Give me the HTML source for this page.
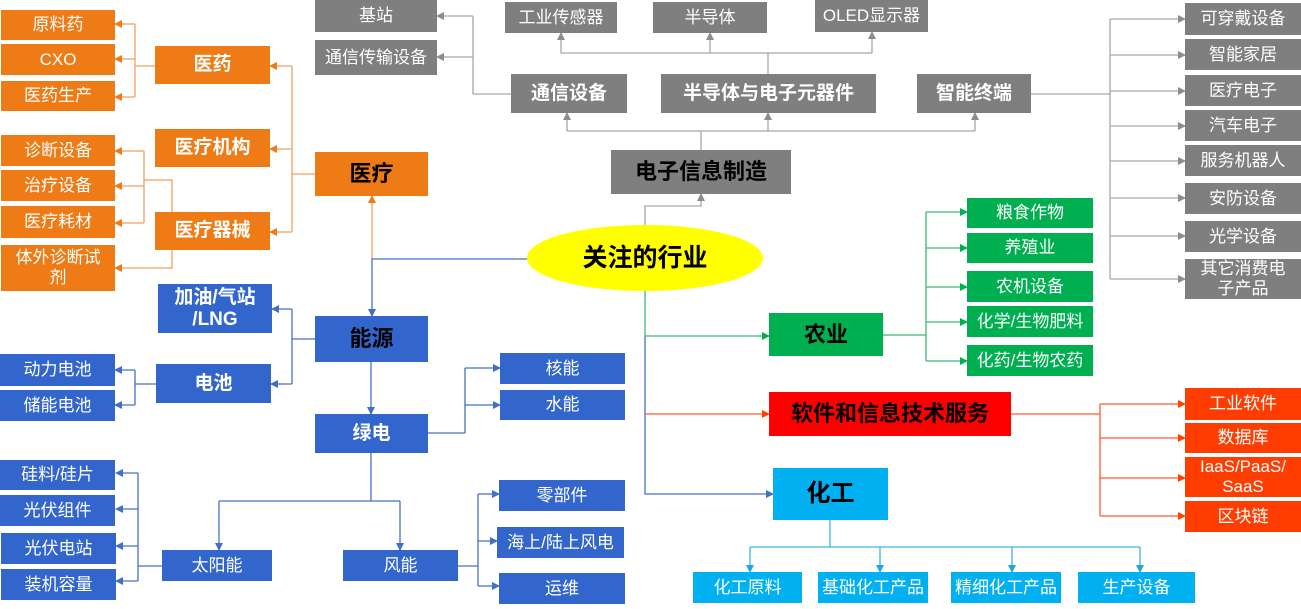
<!DOCTYPE html>
<html><head><meta charset="utf-8"><style>
body{margin:0;width:1301px;height:609px;background:#fff;position:relative;overflow:hidden;font-family:"Liberation Sans","Noto Sans CJK SC",sans-serif}
.b{position:absolute;display:flex;align-items:center;justify-content:center;text-align:center;color:#fff;font-size:17px;line-height:20px;box-sizing:border-box}
.o{background:#EE7B16}.g{background:#7F7F7F}.bl{background:#3366CC}.gr{background:#00B050}.r{background:#FF3D00}.c{background:#00B0F0}
.m{font-weight:bold;font-size:19px}
.t{font-weight:bold;font-size:22px;color:#000}
svg{position:absolute;left:0;top:0}
</style></head><body>
<svg width="1301" height="609" fill="none" stroke-width="1.3">
<defs>
<marker id="ao" markerWidth="8" markerHeight="8" refX="7" refY="4" orient="auto" markerUnits="userSpaceOnUse"><path d="M0,0L8,4L0,8z" fill="#EE7B16" stroke="none"/></marker>
<marker id="ag" markerWidth="8" markerHeight="8" refX="7" refY="4" orient="auto" markerUnits="userSpaceOnUse"><path d="M0,0L8,4L0,8z" fill="#8C8C8C" stroke="none"/></marker>
<marker id="ab" markerWidth="8" markerHeight="8" refX="7" refY="4" orient="auto" markerUnits="userSpaceOnUse"><path d="M0,0L8,4L0,8z" fill="#3F6FC8" stroke="none"/></marker>
<marker id="an" markerWidth="8" markerHeight="8" refX="7" refY="4" orient="auto" markerUnits="userSpaceOnUse"><path d="M0,0L8,4L0,8z" fill="#00B050" stroke="none"/></marker>
<marker id="ar" markerWidth="8" markerHeight="8" refX="7" refY="4" orient="auto" markerUnits="userSpaceOnUse"><path d="M0,0L8,4L0,8z" fill="#FF4000" stroke="none"/></marker>
<marker id="ac" markerWidth="8" markerHeight="8" refX="7" refY="4" orient="auto" markerUnits="userSpaceOnUse"><path d="M0,0L8,4L0,8z" fill="#1FA8E0" stroke="none"/></marker>
</defs>
<g stroke="#F0A060">
<path d="M315,174H292"/><path d="M292,66V232"/>
<path d="M292,66H270" marker-end="url(#ao)"/><path d="M292,149H270" marker-end="url(#ao)"/><path d="M292,232H270" marker-end="url(#ao)"/>
<path d="M155,66H135M135,24V97"/>
<path d="M135,24H115" marker-end="url(#ao)"/><path d="M135,59H115" marker-end="url(#ao)"/><path d="M135,97H115" marker-end="url(#ao)"/>
<path d="M172,212V180H144M144,151V223"/>
<path d="M144,151H115" marker-end="url(#ao)"/><path d="M144,186H115" marker-end="url(#ao)"/><path d="M144,223H115" marker-end="url(#ao)"/>
<path d="M172,250V268H115" marker-end="url(#ao)"/>
<path d="M372,259V196" marker-end="url(#ao)"/>
</g>
<g stroke="#4472C4">
<path d="M528,259H372V316" marker-end="url(#ab)"/>
<path d="M315,339H292M292,309V384"/>
<path d="M292,309H272" marker-end="url(#ab)"/><path d="M292,384H271" marker-end="url(#ab)"/>
<path d="M156,384H135M135,370V405"/>
<path d="M135,370H115" marker-end="url(#ab)"/><path d="M135,405H115" marker-end="url(#ab)"/>
<path d="M371,362V414" marker-end="url(#ab)"/>
<path d="M428,433H465M465,368V433"/>
<path d="M465,368H500" marker-end="url(#ab)"/><path d="M465,405H500" marker-end="url(#ab)"/>
<path d="M371,453V501M219,501H400"/>
<path d="M219,501V550" marker-end="url(#ab)"/><path d="M400,501V550" marker-end="url(#ab)"/>
<path d="M162,566H138M138,473V581"/>
<path d="M138,473H116" marker-end="url(#ab)"/><path d="M138,509H116" marker-end="url(#ab)"/><path d="M138,546H116" marker-end="url(#ab)"/><path d="M138,581H116" marker-end="url(#ab)"/>
<path d="M458,566H478M478,494V586"/>
<path d="M478,494H499" marker-end="url(#ab)"/><path d="M478,541H497" marker-end="url(#ab)"/><path d="M478,586H499" marker-end="url(#ab)"/>
<path d="M645,336V494H773" marker-end="url(#ab)"/>
</g>
<g stroke="#A6A6A6">
<path d="M645,226V206H701V194" marker-end="url(#ag)"/>
<path d="M701,150V131M567,131H975"/>
<path d="M567,131V113" marker-end="url(#ag)"/><path d="M768,131V113" marker-end="url(#ag)"/><path d="M975,131V113" marker-end="url(#ag)"/>
<path d="M768,74V53M561,53H872"/>
<path d="M561,53V33" marker-end="url(#ag)"/><path d="M710,53V33" marker-end="url(#ag)"/><path d="M872,53V32" marker-end="url(#ag)"/>
<path d="M511,94H473M473,16V94"/>
<path d="M473,16H437" marker-end="url(#ag)"/><path d="M473,57H437" marker-end="url(#ag)"/>
<path d="M1031,94H1110M1110,19V279"/>
<path d="M1110,19H1185" marker-end="url(#ag)"/><path d="M1110,55H1185" marker-end="url(#ag)"/><path d="M1110,91H1185" marker-end="url(#ag)"/><path d="M1110,126H1185" marker-end="url(#ag)"/><path d="M1110,161H1185" marker-end="url(#ag)"/><path d="M1110,198H1185" marker-end="url(#ag)"/><path d="M1110,236H1185" marker-end="url(#ag)"/><path d="M1110,279H1185" marker-end="url(#ag)"/>
</g>
<g stroke="#3CB878">
<path d="M645,291V336H769" marker-end="url(#an)"/>
<path d="M883,335H926M926,212V361"/>
<path d="M926,212H967" marker-end="url(#an)"/><path d="M926,248H967" marker-end="url(#an)"/><path d="M926,287H967" marker-end="url(#an)"/><path d="M926,322H967" marker-end="url(#an)"/><path d="M926,361H967" marker-end="url(#an)"/>
</g>
<g stroke="#FF5A30">
<path d="M645,414H769" marker-end="url(#ar)"/>
<path d="M1011,414H1100M1100,404V516"/>
<path d="M1100,404H1185" marker-end="url(#ar)"/><path d="M1100,438H1185" marker-end="url(#ar)"/><path d="M1100,478H1185" marker-end="url(#ar)"/><path d="M1100,516H1185" marker-end="url(#ar)"/>
</g>
<g stroke="#3AB4E8">
<path d="M830,520V547M750,547H1140"/>
<path d="M750,547V572" marker-end="url(#ac)"/><path d="M880,547V572" marker-end="url(#ac)"/><path d="M1012,547V572" marker-end="url(#ac)"/><path d="M1140,547V572" marker-end="url(#ac)"/>
</g>
<ellipse cx="645" cy="258" rx="118" ry="33" fill="#FFFF00" stroke="none"/>
</svg>
<div class="b t" style="left:527px;top:225px;width:236px;height:66px;font-size:25px">关注的行业</div>

<div class="b o" style="left:1px;top:10px;width:114px;height:30px">原料药</div>
<div class="b o" style="left:1px;top:44px;width:114px;height:31px">CXO</div>
<div class="b o" style="left:1px;top:81px;width:114px;height:30px">医药生产</div>
<div class="b o" style="left:1px;top:135px;width:114px;height:31px">诊断设备</div>
<div class="b o" style="left:1px;top:170px;width:114px;height:31px">治疗设备</div>
<div class="b o" style="left:1px;top:206px;width:114px;height:32px">医疗耗材</div>
<div class="b o" style="left:1px;top:245px;width:114px;height:46px">体外诊断试<br>剂</div>
<div class="b o m" style="left:155px;top:46px;width:115px;height:38px">医药</div>
<div class="b o m" style="left:155px;top:129px;width:115px;height:38px">医疗机构</div>
<div class="b o m" style="left:155px;top:212px;width:115px;height:38px">医疗器械</div>
<div class="b o t" style="left:315px;top:152px;width:113px;height:44px">医疗</div>

<div class="b g" style="left:315px;top:0px;width:122px;height:32px">基站</div>
<div class="b g" style="left:315px;top:40px;width:122px;height:35px">通信传输设备</div>
<div class="b g" style="left:505px;top:2px;width:112px;height:31px">工业传感器</div>
<div class="b g" style="left:653px;top:2px;width:114px;height:31px">半导体</div>
<div class="b g" style="left:815px;top:0px;width:113px;height:32px">OLED显示器</div>
<div class="b g m" style="left:511px;top:74px;width:116px;height:39px">通信设备</div>
<div class="b g m" style="left:661px;top:74px;width:215px;height:39px">半导体与电子元器件</div>
<div class="b g m" style="left:917px;top:74px;width:114px;height:39px">智能终端</div>
<div class="b g t" style="left:611px;top:150px;width:180px;height:44px">电子信息制造</div>
<div class="b g" style="left:1185px;top:3px;width:116px;height:32px">可穿戴设备</div>
<div class="b g" style="left:1185px;top:39px;width:116px;height:31px">智能家居</div>
<div class="b g" style="left:1185px;top:75px;width:116px;height:31px">医疗电子</div>
<div class="b g" style="left:1185px;top:110px;width:116px;height:31px">汽车电子</div>
<div class="b g" style="left:1185px;top:145px;width:116px;height:31px">服务机器人</div>
<div class="b g" style="left:1185px;top:183px;width:116px;height:31px">安防设备</div>
<div class="b g" style="left:1185px;top:221px;width:116px;height:31px">光学设备</div>
<div class="b g" style="left:1185px;top:259px;width:116px;height:40px">其它消费电<br>子产品</div>

<div class="b gr t" style="left:769px;top:313px;width:114px;height:43px">农业</div>
<div class="b gr" style="left:967px;top:198px;width:126px;height:30px">粮食作物</div>
<div class="b gr" style="left:967px;top:233px;width:126px;height:30px">养殖业</div>
<div class="b gr" style="left:967px;top:271px;width:126px;height:31px">农机设备</div>
<div class="b gr" style="left:967px;top:306px;width:126px;height:31px">化学/生物肥料</div>
<div class="b gr" style="left:967px;top:345px;width:126px;height:31px">化药/生物农药</div>

<div class="b t" style="left:769px;top:392px;width:242px;height:44px;background:#FF0000">软件和信息技术服务</div>
<div class="b r" style="left:1185px;top:388px;width:116px;height:32px">工业软件</div>
<div class="b r" style="left:1185px;top:423px;width:116px;height:30px">数据库</div>
<div class="b r" style="left:1185px;top:457px;width:116px;height:40px">IaaS/PaaS/<br>SaaS</div>
<div class="b r" style="left:1185px;top:501px;width:116px;height:31px">区块链</div>

<div class="b c t" style="left:773px;top:468px;width:115px;height:52px;font-size:24px">化工</div>
<div class="b c" style="left:693px;top:572px;width:109px;height:31px">化工原料</div>
<div class="b c" style="left:818px;top:572px;width:110px;height:31px">基础化工产品</div>
<div class="b c" style="left:951px;top:572px;width:110px;height:31px">精细化工产品</div>
<div class="b c" style="left:1078px;top:572px;width:117px;height:31px">生产设备</div>

<div class="b bl t" style="left:315px;top:316px;width:113px;height:46px">能源</div>
<div class="b bl m" style="left:158px;top:284px;width:114px;height:49px;line-height:22px">加油/气站<br>/LNG</div>
<div class="b bl m" style="left:156px;top:364px;width:115px;height:39px">电池</div>
<div class="b bl" style="left:0px;top:354px;width:115px;height:32px">动力电池</div>
<div class="b bl" style="left:0px;top:390px;width:115px;height:31px">储能电池</div>
<div class="b bl m" style="left:315px;top:414px;width:113px;height:39px">绿电</div>
<div class="b bl" style="left:500px;top:353px;width:125px;height:31px">核能</div>
<div class="b bl" style="left:500px;top:390px;width:125px;height:30px">水能</div>
<div class="b bl" style="left:0px;top:460px;width:115px;height:30px">硅料/硅片</div>
<div class="b bl" style="left:0px;top:495px;width:115px;height:31px">光伏组件</div>
<div class="b bl" style="left:1px;top:533px;width:115px;height:31px">光伏电站</div>
<div class="b bl" style="left:1px;top:569px;width:115px;height:31px">装机容量</div>
<div class="b bl" style="left:162px;top:550px;width:110px;height:31px">太阳能</div>
<div class="b bl" style="left:343px;top:550px;width:115px;height:31px">风能</div>
<div class="b bl" style="left:499px;top:480px;width:126px;height:31px">零部件</div>
<div class="b bl" style="left:497px;top:527px;width:127px;height:31px">海上/陆上风电</div>
<div class="b bl" style="left:499px;top:573px;width:126px;height:31px">运维</div>
</body></html>
